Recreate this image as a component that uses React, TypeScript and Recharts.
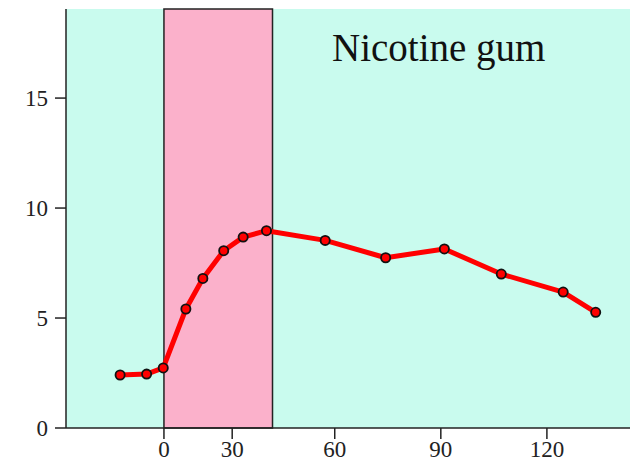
import React from 'react'
import {
  LineChart, Line, XAxis, YAxis, ReferenceArea, CartesianGrid, ReferenceDot,
} from 'recharts'

// minutes (axis is a bit odd in the source: the "0" label sits at chewing start)
const times = [-0.7, 6.8, 11.5, 17.9, 22.7, 28.6, 34.1, 40.7, 57.3, 74.4, 91.0, 107.1, 124.6, 133.8]
const values = [2.41, 2.45, 2.73, 5.41, 6.8, 8.06, 8.68, 8.97, 8.53, 7.74, 8.14, 7.0, 6.18, 5.26]

const xTickPos = [11.7, 31, 60, 90, 120]
const xTickLabels = ['0', '30', '60', '90', '120']
const yTicks = [0, 5, 10, 15]

const gumStart = 11.7
const gumEnd = 42.4
const xDomain: [number, number] = [-16, 143.5]
const yDomain: [number, number] = [0, 19.05]

const data = times.map((t, i) => ({ t, v: values[i] }))

const font = "'Liberation Serif', 'Times New Roman', serif"
const tickStyle = { fontSize: 23, fontFamily: font, fill: '#222' }

export default function App() {
  return (
    <div style={{ position: 'absolute', left: 0, top: 0, fontFamily: font }}>
      <LineChart width={630} height={464} data={data} margin={{ top: 9, right: 0, left: 0, bottom: 0 }}>
        <CartesianGrid horizontal={false} vertical={false} fill="#c9fbee" fillOpacity={1} />
        <ReferenceArea x1={gumStart} x2={gumEnd} y1={yDomain[0]} y2={yDomain[1]}
          fill="#fbb1cb" fillOpacity={1} stroke="#222" strokeWidth={1.5} />
        <XAxis
          dataKey="t" type="number" domain={xDomain} ticks={xTickPos}
          tickFormatter={(v: number) => xTickLabels[xTickPos.indexOf(v)]}
          tick={tickStyle} tickSize={11} tickMargin={2}
          stroke="#222" strokeWidth={1.5} height={36} allowDataOverflow
        />
        <YAxis
          type="number" domain={yDomain} ticks={yTicks}
          tick={tickStyle} tickSize={11} tickMargin={7}
          stroke="#222" strokeWidth={1.5} width={66} allowDataOverflow
        />
        <Line
          dataKey="v" type="linear" stroke="#ff0000" strokeWidth={5} strokeLinejoin="round"
          dot={{ r: 4.6, fill: '#ff0000', stroke: '#111', strokeWidth: 1.8 }}
          isAnimationActive={false}
        />
        <ReferenceDot
          x={89.4} y={17.3} r={0} fill="none" stroke="none"
          label={{ value: 'Nicotine gum', position: 'center', fontSize: 39, fontFamily: font, fill: '#111' }}
        />
      </LineChart>
    </div>
  )
}
